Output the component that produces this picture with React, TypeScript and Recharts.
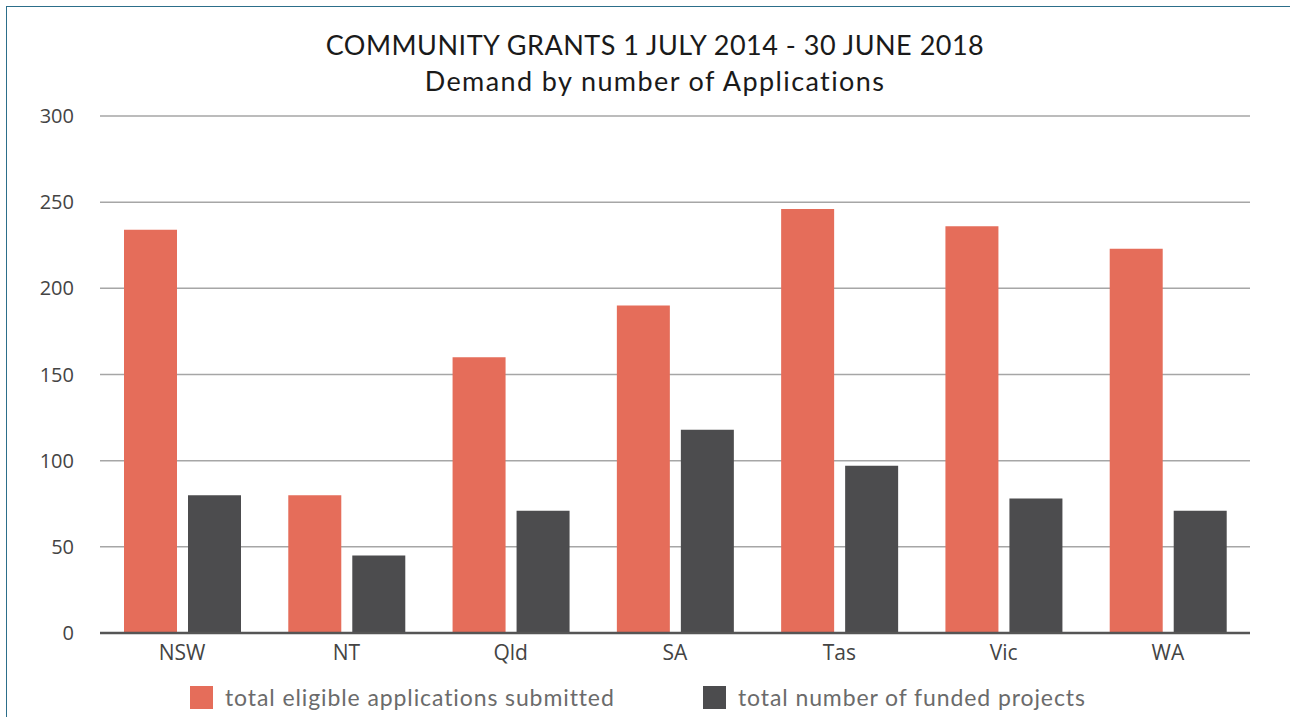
import React from 'react';
import { BarChart, Bar, XAxis, YAxis, CartesianGrid } from 'recharts';

const states = ['NSW', 'NT', 'Qld', 'SA', 'Tas', 'Vic', 'WA'];
const eligibleApplications = [234, 80, 160, 190, 246, 236, 223];
const fundedProjects = [80, 45, 71, 118, 97, 78, 71];
const yTicks = [0, 50, 100, 150, 200, 250, 300];
const seriesNames = ['total eligible applications submitted', 'total number of funded projects'];
const seriesColors = ['#E56D5A', '#4C4C4E'];

const titleLines = ['COMMUNITY GRANTS 1 JULY 2014 - 30 JUNE 2018', 'Demand by number of Applications'];
const titleSpacing = [0.5, 1.4];

export default function App() {
  const data = states.map((state, i) => ({
    state,
    eligible: eligibleApplications[i],
    funded: fundedProjects[i],
  }));

  return (
    <div
      style={{
        position: 'fixed',
        left: 0,
        top: 0,
        width: 1290,
        height: 717,
        background: '#fff',
        overflow: 'hidden',
      }}
    >
      {/* frame on the left and top */}
      <div
        style={{
          position: 'absolute',
          left: 6,
          top: 6,
          right: -10,
          bottom: -10,
          borderLeft: '1.5px solid #2C6E8A',
          borderTop: '1.5px solid #2C6E8A',
        }}
      />

      <div
        style={{
          position: 'absolute',
          left: 0,
          width: 1310,
          top: 27,
          textAlign: 'center',
          fontFamily: 'Lato, sans-serif',
          fontSize: 27,
          lineHeight: '36px',
          color: '#1a1a1a',
        }}
      >
        {titleLines.map((t, i) => (
          <div key={t} style={{ letterSpacing: titleSpacing[i] }}>
            {t}
          </div>
        ))}
      </div>

      <div style={{ position: 'absolute', left: 0, top: 0 }}>
        <BarChart
          width={1290}
          height={717}
          data={data}
          margin={{ top: 116, right: 40, left: 0, bottom: 44 }}
          barSize={53}
          barGap={11}
        >
          <CartesianGrid vertical={false} stroke="#A6A6A6" strokeWidth={1.5} />
          <XAxis
            dataKey="state"
            height={40}
            tickLine={false}
            axisLine={{ stroke: '#555555', strokeWidth: 2.5 }}
            tick={{ fill: '#444444', fontSize: 21, fontFamily: '"Open Sans", sans-serif' }}
            tickMargin={6}
          />
          <YAxis
            width={100}
            domain={[0, 300]}
            ticks={yTicks}
            axisLine={false}
            tickLine={false}
            tickSize={0}
            tickMargin={26}
            tick={{ fill: '#444444', fontSize: 20, fontFamily: '"Open Sans", sans-serif' }}
          />
          <Bar dataKey="eligible" name={seriesNames[0]} fill={seriesColors[0]} isAnimationActive={false} />
          <Bar dataKey="funded" name={seriesNames[1]} fill={seriesColors[1]} isAnimationActive={false} />
        </BarChart>
      </div>

      {/* legend */}
      {seriesNames.map((name, i) => (
        <div
          key={name}
          style={{
            position: 'absolute',
            left: i === 0 ? 190 : 703,
            top: 683,
            display: 'flex',
            alignItems: 'center',
            fontFamily: 'Lato, sans-serif',
            fontSize: 23,
            letterSpacing: 0.9,
            color: '#6b6b6b',
            whiteSpace: 'nowrap',
          }}
        >
          <span style={{ width: 23, height: 23, background: seriesColors[i], marginRight: 12 }} />
          {name}
        </div>
      ))}
    </div>
  );
}
